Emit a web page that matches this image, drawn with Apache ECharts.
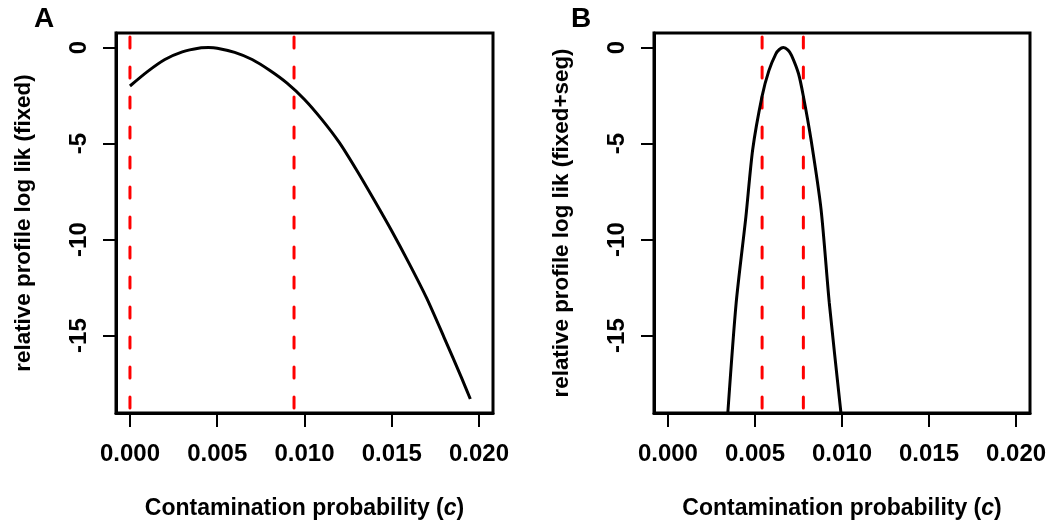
<!DOCTYPE html>
<html>
<head>
<meta charset="utf-8">
<script src="https://cdn.jsdelivr.net/npm/echarts@6/dist/echarts.min.js"></script>
<style>
  html, body { margin: 0; padding: 0; background: #fff; }
  #wrap { position: relative; width: 1059px; height: 525px; }
  #chartA { position: absolute; left: 0; top: 0; width: 530px; height: 525px; }
  #chartB { position: absolute; left: 530px; top: 0; width: 529px; height: 525px; }
</style>
</head>
<body>
<div id="wrap">
  <div id="chartA"></div>
  <div id="chartB"></div>
</div>
<script>
// panel A: profile log lik (fixed)
const xA = [0, 0.001, 0.002, 0.003, 0.004, 0.0045, 0.005, 0.006, 0.007, 0.008, 0.009, 0.010, 0.011, 0.012, 0.013, 0.014, 0.015, 0.016, 0.017, 0.018, 0.019, 0.0195]
const yA = [-2.0, -1.25, -0.62, -0.22, -0.02, 0, -0.03, -0.25, -0.62, -1.18, -1.85, -2.7, -3.75, -4.95, -6.4, -7.95, -9.55, -11.25, -13.05, -15.1, -17.2, -18.3]
const ciA = [0, 0.0094]

// panel B: profile log lik (fixed+seg)
const xB = [0.00344, 0.00392, 0.00448, 0.00487, 0.00541, 0.0058, 0.0062, 0.0064, 0.00663, 0.0069, 0.0071, 0.0075, 0.00778, 0.00822, 0.0088, 0.00927, 0.00994]
const yB = [-19.03, -13.3, -8.8, -5.31, -2.53, -1.2, -0.33, -0.1, 0, -0.13, -0.4, -1.35, -2.53, -4.79, -8.45, -13.3, -19.03]
const ciB = [0.00541, 0.00778]

const xTicks = [0, 0.005, 0.010, 0.015, 0.020]
const yTicks = [0, -5, -10, -15]

const X_MIN = -0.0008, X_MAX = 0.0208
const Y_MIN = -19.03, Y_MAX = 0.76
const FONT = 'Liberation Sans, Arial, sans-serif'

function pairs (xs, ys) {
  return xs.map((x, i) => [x, ys[i]])
}

function ciSeries (x) {
  return {
    type: 'line',
    data: [[x, Y_MAX], [x, Y_MIN]],
    symbol: 'none',
    silent: true,
    lineStyle: { color: '#ff0000', width: 3, type: [11, 19], cap: 'round', dashOffset: -4 },
    z: 3
  }
}

function panel (el, letter, letterLeft, gridLeft, gridRight, yTitle, xs, ys, ci) {
  const chart = echarts.init(document.getElementById(el))
  chart.setOption({
    animation: false,
    title: {
      text: letter, left: letterLeft, top: 5, padding: 0,
      textStyle: { fontFamily: FONT, fontWeight: 'bold', fontSize: 28, color: '#000' }
    },
    grid: { left: gridLeft, right: gridRight, top: 33, bottom: 112, show: true, borderColor: '#000', borderWidth: 3 },
    xAxis: {
      type: 'value',
      min: X_MIN,
      max: X_MAX,
      name: '{n|Contamination probability (}{i|c}{n|)}',
      nameLocation: 'middle',
      nameGap: 84,
      nameTextStyle: {
        rich: {
          n: { fontFamily: FONT, fontWeight: 'bold', fontSize: 23, color: '#000' },
          i: { fontFamily: FONT, fontWeight: 'bold', fontStyle: 'italic', fontSize: 23, color: '#000' }
        }
      },
      axisLine: { show: true, onZero: false, lineStyle: { color: '#000', width: 3 } },
      splitLine: { show: false },
      axisTick: { show: true, customValues: xTicks, length: 14, lineStyle: { color: '#000', width: 2 } },
      axisLabel: {
        customValues: xTicks,
        margin: 29,
        fontFamily: FONT,
        fontWeight: 'bold',
        fontSize: 24,
        color: '#000',
        formatter: v => v.toFixed(3)
      }
    },
    yAxis: {
      type: 'value',
      min: Y_MIN,
      max: Y_MAX,
      name: yTitle,
      nameLocation: 'middle',
      nameGap: 81,
      nameTextStyle: { fontFamily: FONT, fontWeight: 'bold', fontSize: 22.4, color: '#000' },
      axisLine: { show: true, onZero: false, lineStyle: { color: '#000', width: 3 } },
      splitLine: { show: false },
      axisTick: { show: true, customValues: yTicks, length: 13, lineStyle: { color: '#000', width: 2 } },
      axisLabel: {
        customValues: yTicks,
        rotate: 90,
        margin: 25,
        fontFamily: FONT,
        fontWeight: 'bold',
        fontSize: 24,
        color: '#000',
        formatter: v => String(v)
      }
    },
    series: [
      ciSeries(ci[0]),
      ciSeries(ci[1]),
      {
        type: 'line',
        data: pairs(xs, ys),
        symbol: 'none',
        smooth: 0.25,
        clip: true,
        silent: true,
        lineStyle: { color: '#000', width: 3 },
        z: 4
      }
    ]
  })
}

panel('chartA', 'A', 34, 116, 37, 'relative profile log lik (fixed)', xA, yA, ciA)
panel('chartB', 'B', 41, 124, 29, 'relative profile log lik (fixed+seg)', xB, yB, ciB)
</script>
</body>
</html>
